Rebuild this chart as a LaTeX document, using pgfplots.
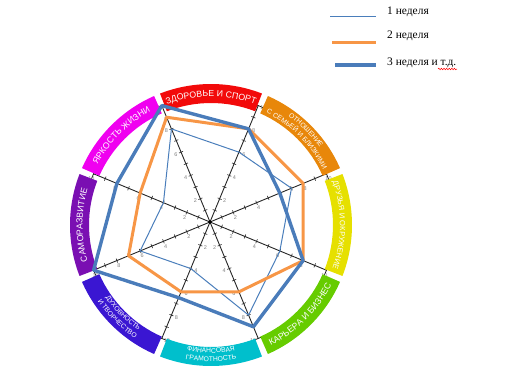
\documentclass[border=0pt]{standalone}
\usepackage{pgfplots}
\pgfplotsset{compat=1.18}
\usepackage{fontspec}
\setmainfont{Liberation Serif}
\setsansfont{Liberation Sans}
\usetikzlibrary{decorations.text,decorations.pathmorphing}
\definecolor{cRed}{HTML}{F20A0A}
\definecolor{cOrange}{HTML}{E8870A}
\definecolor{cYellow}{HTML}{E6E000}
\definecolor{cGreen}{HTML}{66CC00}
\definecolor{cCyan}{HTML}{00BFCC}
\definecolor{cViolet}{HTML}{3A16D2}
\definecolor{cPurple}{HTML}{7A0FB2}
\definecolor{cMagenta}{HTML}{F000F0}
\definecolor{wOne}{HTML}{4A7EBB}
\definecolor{wTwo}{HTML}{F79646}
\definecolor{wThree}{HTML}{4A7CBA}
\newcommand\bandfont{\sffamily\fontsize{8.8}{8.8}\selectfont}
\newcommand\bandfontmd{\sffamily\fontsize{7.6}{7.6}\selectfont}
\newcommand\bandfontsm{\sffamily\fontsize{6.8}{6.8}\selectfont}
\begin{document}
\begin{tikzpicture}[x=1bp,y=1bp]
\useasboundingbox (0,0) rectangle (506,371);
% wheel: circle, spokes, ticks
\begin{scope}[shift={(210,149)}]
  \draw[black, line width=0.7bp] (0,0) circle[radius=126];
  \foreach \a in {112.5,67.5,22.5,-22.5}
    \draw[black!85, line width=0.9bp] (\a:126) -- (\a+180:126);
  \foreach \a/\d in {112.5/202.5, 67.5/-22.5, 22.5/-67.5, -22.5/-112.5, -67.5/202.5, -112.5/-22.5, -157.5/-67.5, 157.5/-112.5} {
    \foreach \v in {1,...,9}
      \draw[black!85, line width=0.6bp] (\a:{\v*12.6}) ++(\a+90:2.2) -- ++(\a-90:4.4);
    \foreach \v in {2,4,...,10}
      \path (\a:{\v*12.6}) ++(\d:5.5) node[inner sep=0pt, text=black!50, font=\sffamily\fontsize{5.5}{5.5}\selectfont] {\v};
  }
  \fill[black] (0,0) circle[radius=1.8];
\end{scope}
% coloured bands
\begin{scope}[shift={(211,146)}]
  \foreach \s/\c in {67.5/cRed, 22.5/cOrange, -22.5/cYellow, -67.5/cGreen, -112.5/cCyan, -157.5/cViolet, 157.5/cPurple, 112.5/cMagenta} {
    \pgfmathsetmacro\st{\s+1.3}
    \pgfmathsetmacro\en{\s+45-1.3}
    \fill[\c] (\st:122) arc[start angle=\st, end angle=\en, radius=122] -- (\en:141) arc[start angle=\en, end angle=\st, radius=141] -- cycle;
  }
  % clockwise labels (tops outward)
  \path[decorate, decoration={text along path, text align=center, text color=white, text={|\bandfont|ЗДОРОВЬЕ И СПОРТ}}] (112.5:128.5) arc[start angle=112.5, end angle=67.5, radius=128.5];
  \path[decorate, decoration={text along path, text align=center, text color=white, text={|\bandfont|ЯРКОСТЬ ЖИЗНИ}}] (157.5:128.5) arc[start angle=157.5, end angle=112.5, radius=128.5];
  \path[decorate, decoration={text along path, text align=center, text color=white, text={|\bandfont|САМОРАЗВИТИЕ}}] (202.5:128.5) arc[start angle=202.5, end angle=157.5, radius=128.5];
  \path[decorate, decoration={text along path, text align=center, text color=white, text={|\bandfontmd|ДРУЗЬЯ И ОКРУЖЕНИЕ}}] (22.5:129) arc[start angle=22.5, end angle=-22.5, radius=129];
  \path[decorate, decoration={text along path, text align=center, text color=white, text={|\bandfontsm|ОТНОШЕНИЕ}}] (67.5:133.5) arc[start angle=67.5, end angle=22.5, radius=133.5];
  \path[decorate, decoration={text along path, text align=center, text color=white, text={|\bandfontsm|С СЕМЬЕЙ И БЛИЗКИМИ}}] (67.5:125) arc[start angle=67.5, end angle=22.5, radius=125];
  % counter-clockwise labels (tops inward)
  \path[decorate, decoration={text along path, text align=center, text color=white, text={|\bandfont|КАРЬЕРА И БИЗНЕС}}] (-67.5:134.5) arc[start angle=-67.5, end angle=-22.5, radius=134.5];
  \path[decorate, decoration={text along path, text align=center, text color=white, text={|\bandfontsm|ФИНАНСОВАЯ}}] (-112.5:128) arc[start angle=-112.5, end angle=-67.5, radius=128];
  \path[decorate, decoration={text along path, text align=center, text color=white, text={|\bandfontsm|ГРАМОТНОСТЬ}}] (-112.5:136.5) arc[start angle=-112.5, end angle=-67.5, radius=136.5];
  \path[decorate, decoration={text along path, text align=center, text color=white, text={|\bandfontsm|ДУХОВНОСТЬ}}] (-157.5:128) arc[start angle=-157.5, end angle=-112.5, radius=128];
  \path[decorate, decoration={text along path, text align=center, text color=white, text={|\bandfontsm|И ТВОРЧЕСТВО}}] (-157.5:136.5) arc[start angle=-157.5, end angle=-112.5, radius=136.5];
\end{scope}
% data
\begin{axis}[at={(210bp,149bp)}, anchor=center, scale only axis, width=252bp, height=252bp,
  xmin=-10, xmax=10, ymin=-10, ymax=10, hide axis, clip=false]
  \addplot[wOne, line width=1bp, line join=round, data cs=polar] coordinates
    {(112.5,8) (67.5,6) (22.5,7) (-22.5,6) (-67.5,8) (-112.5,4) (-157.5,6) (157.5,4) (112.5,8)};
  \addplot[wTwo, line width=3bp, line join=round, line cap=round, data cs=polar] coordinates
    {(112.5,9) (67.5,8) (22.5,8) (-22.5,8) (-67.5,6) (-112.5,6) (-157.5,7) (157.5,6) (112.5,9)};
  \addplot[wThree, line width=3.4bp, line join=round, line cap=round, data cs=polar] coordinates
    {(112.5,10) (67.5,8) (22.5,6) (-22.5,8) (-67.5,9) (-112.5,6.5) (-157.5,10) (157.5,8) (112.5,10)};
\end{axis}
% legend
\draw[wOne, line width=0.9bp] (330,354.3) -- (376,354.3);
\draw[wTwo, line width=3bp] (332,328.7) -- (376,328.7);
\draw[wThree, line width=3.4bp] (335,306) -- (376,306);
\begin{scope}[every node/.style={anchor=base west, inner sep=0pt, font=\fontsize{11.5}{12}\selectfont}]
  \node at (387,356.7) {1 неделя};
  \node at (387,332.7) {2 неделя};
  \node at (387,306) {3 неделя и т.д.};
\end{scope}
\draw[red, line width=0.5bp, decorate, decoration={snake, amplitude=0.8bp, segment length=2.6bp}] (438,302) -- (457,302);
\end{tikzpicture}
\end{document}
